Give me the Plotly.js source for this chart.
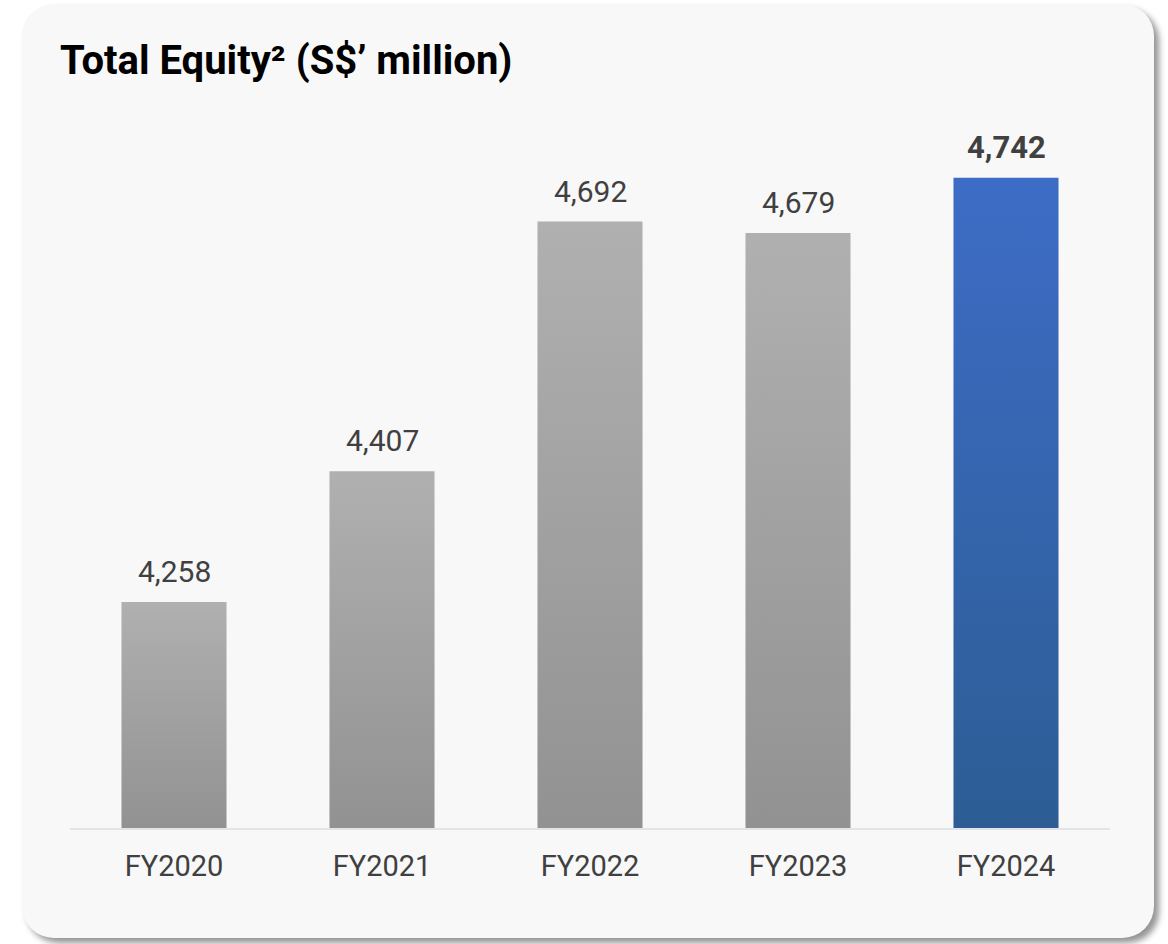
<!DOCTYPE html>
<html>
<head>
<meta charset="utf-8">
<script src="https://cdn.plot.ly/plotly-3.0.1.min.js"></script>
<style>
  html, body { margin: 0; padding: 0; background: #ffffff; }
  #card {
    position: absolute; left: 22px; top: 4px; width: 1132px; height: 934px;
    background: #f8f8f8; border-radius: 32px;
    box-shadow: 5px 5px 6px rgba(0,0,0,0.42);
  }
  #chart { position: absolute; left: 0; top: 0; width: 1168px; height: 944px; }
  #gradsvg { position: absolute; left: 0; top: 0; width: 0; height: 0; }
  #chart .barlayer .point path { fill: url(#gGray) !important; }
  #chart .barlayer .point:last-child path { fill: url(#gBlue) !important; }
</style>
</head>
<body>
<svg id="gradsvg" xmlns="http://www.w3.org/2000/svg">
  <defs>
    <linearGradient id="gGray" x1="0" y1="0" x2="0" y2="1">
      <stop offset="0" stop-color="#b0b0b0"/>
      <stop offset="1" stop-color="#929292"/>
    </linearGradient>
    <linearGradient id="gBlue" x1="0" y1="0" x2="0" y2="1">
      <stop offset="0" stop-color="#3d6cc6"/>
      <stop offset="1" stop-color="#2d5d94"/>
    </linearGradient>
  </defs>
</svg>
<div id="card"></div>
<div id="chart"></div>
<script>
const categories = ["FY2020", "FY2021", "FY2022", "FY2023", "FY2024"];
const values = [4258, 4407, 4692, 4679, 4742];
const labels = ["4,258", "4,407", "4,692", "4,679", "<b>4,742</b>"];
const highlight = [false, false, false, false, true];
const axisBase = 4000;
const axisTop = 4785;
const titleText = "Total Equity² (S$’ million)";

const trace = {
  type: "bar",
  x: categories,
  base: axisBase,
  y: values.map(function (v) { return v - axisBase; }),
  marker: { color: ["#a0a0a0", "#a0a0a0", "#a0a0a0", "#a0a0a0", "#3564b0"], line: { width: 0 } },
  hoverinfo: "none"
};

const annotations = categories.map(function (c, i) {
  return {
    x: c, y: values[i], xref: "x", yref: "y",
    text: labels[i], showarrow: false,
    xanchor: "center", yanchor: "bottom",
    yshift: highlight[i] ? 10 : 11,
    font: { family: "Roboto", size: highlight[i] ? 31 : 30, color: "#404040" }
  };
});

const layout = {
  width: 1168, height: 944,
  paper_bgcolor: "rgba(0,0,0,0)",
  plot_bgcolor: "rgba(0,0,0,0)",
  margin: { l: 70, r: 58, t: 140, b: 116 },
  bargap: 0.495,
  showlegend: false,
  annotations: annotations,
  title: {
    text: titleText,
    font: { family: "Roboto", size: 40, color: "#000000", weight: "bold" },
    xref: "container", yref: "container",
    x: 60 / 1168, xanchor: "left",
    y: 1 - 60 / 944, yanchor: "middle"
  },
  xaxis: {
    showgrid: false, zeroline: false,
    showline: true, linecolor: "#e1e5ea", linewidth: 2,
    ticks: "", ticklabelstandoff: 11,
    tickfont: { family: "Roboto", size: 29, color: "#404040" }
  },
  yaxis: {
    range: [axisBase, axisTop],
    visible: false, showgrid: false, zeroline: false
  }
};

Plotly.newPlot("chart", [trace], layout, { staticPlot: true, displayModeBar: false });
</script>
</body>
</html>
